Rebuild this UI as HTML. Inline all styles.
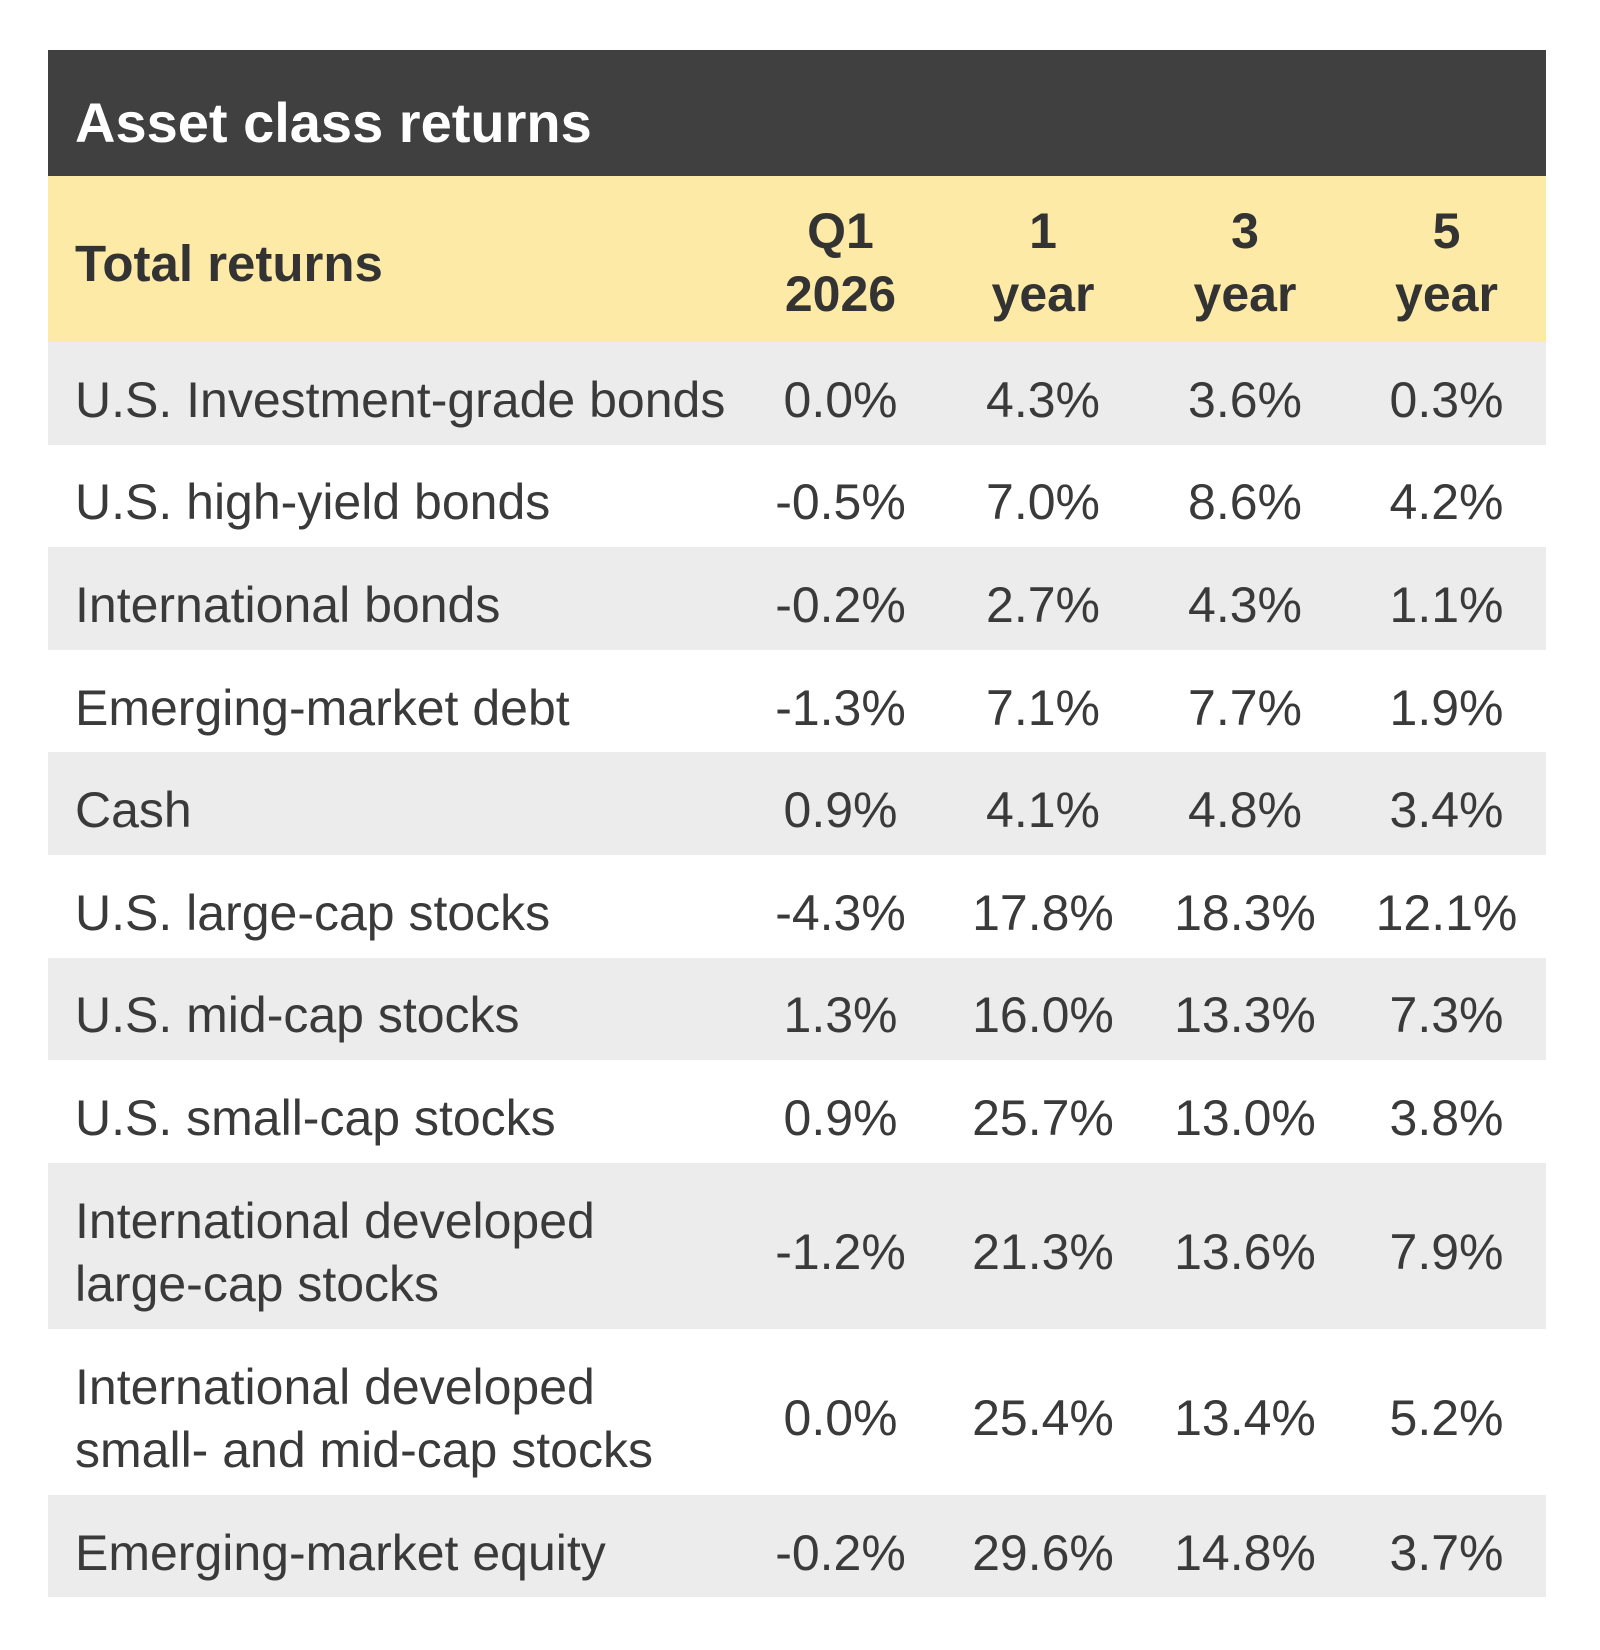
<!DOCTYPE html>
<html><head><style>
body{margin:0;background:#fff;width:1600px;height:1650px;font-family:"Liberation Sans",sans-serif;color:#3a3a3a;}
.t{position:absolute;left:48px;top:50px;width:1498px;}
.title{height:126px;background:#404040;color:#fff;font-weight:bold;font-size:56px;line-height:126px;padding-top:10px;padding-left:27px;box-sizing:border-box;}
.row{display:flex;align-items:center;box-sizing:border-box;padding-top:14px;}
.row>div{flex-shrink:0}
.hd{height:166px;background:#fdeaa6;font-weight:bold;font-size:50px;color:#333;line-height:64px;padding-top:8px}
.g{background:#ececec}
.lab{width:707px;padding-left:27px;box-sizing:border-box;font-size:50px;line-height:63px;}
.c{text-align:center;font-size:50px;line-height:63px;}
.a{width:171px}.b{width:234px}.d{width:170px}.e{width:233px}
.r{height:102.6px}.r2{height:166px}
</style></head><body>
<div class="t">
<div class="title">Asset class returns</div>
<div class="row hd"><div class="lab" style="font-size:51px">Total returns</div><div class="c a">Q1<br>2026</div><div class="c b">1<br>year</div><div class="c d">3<br>year</div><div class="c e">5<br>year</div></div>
<div class="row r g"><div class="lab">U.S. Investment-grade bonds</div><div class="c a">0.0%</div><div class="c b">4.3%</div><div class="c d">3.6%</div><div class="c e">0.3%</div></div>
<div class="row r"><div class="lab">U.S. high-yield bonds</div><div class="c a">-0.5%</div><div class="c b">7.0%</div><div class="c d">8.6%</div><div class="c e">4.2%</div></div>
<div class="row r g"><div class="lab">International bonds</div><div class="c a">-0.2%</div><div class="c b">2.7%</div><div class="c d">4.3%</div><div class="c e">1.1%</div></div>
<div class="row r"><div class="lab">Emerging-market debt</div><div class="c a">-1.3%</div><div class="c b">7.1%</div><div class="c d">7.7%</div><div class="c e">1.9%</div></div>
<div class="row r g"><div class="lab">Cash</div><div class="c a">0.9%</div><div class="c b">4.1%</div><div class="c d">4.8%</div><div class="c e">3.4%</div></div>
<div class="row r"><div class="lab">U.S. large-cap stocks</div><div class="c a">-4.3%</div><div class="c b">17.8%</div><div class="c d">18.3%</div><div class="c e">12.1%</div></div>
<div class="row r g"><div class="lab">U.S. mid-cap stocks</div><div class="c a">1.3%</div><div class="c b">16.0%</div><div class="c d">13.3%</div><div class="c e">7.3%</div></div>
<div class="row r"><div class="lab">U.S. small-cap stocks</div><div class="c a">0.9%</div><div class="c b">25.7%</div><div class="c d">13.0%</div><div class="c e">3.8%</div></div>
<div class="row r2 g"><div class="lab">International developed<br>large-cap stocks</div><div class="c a">-1.2%</div><div class="c b">21.3%</div><div class="c d">13.6%</div><div class="c e">7.9%</div></div>
<div class="row r2"><div class="lab">International developed<br>small- and mid-cap stocks</div><div class="c a">0.0%</div><div class="c b">25.4%</div><div class="c d">13.4%</div><div class="c e">5.2%</div></div>
<div class="row r g"><div class="lab">Emerging-market equity</div><div class="c a">-0.2%</div><div class="c b">29.6%</div><div class="c d">14.8%</div><div class="c e">3.7%</div></div>
</div>
</body></html>
